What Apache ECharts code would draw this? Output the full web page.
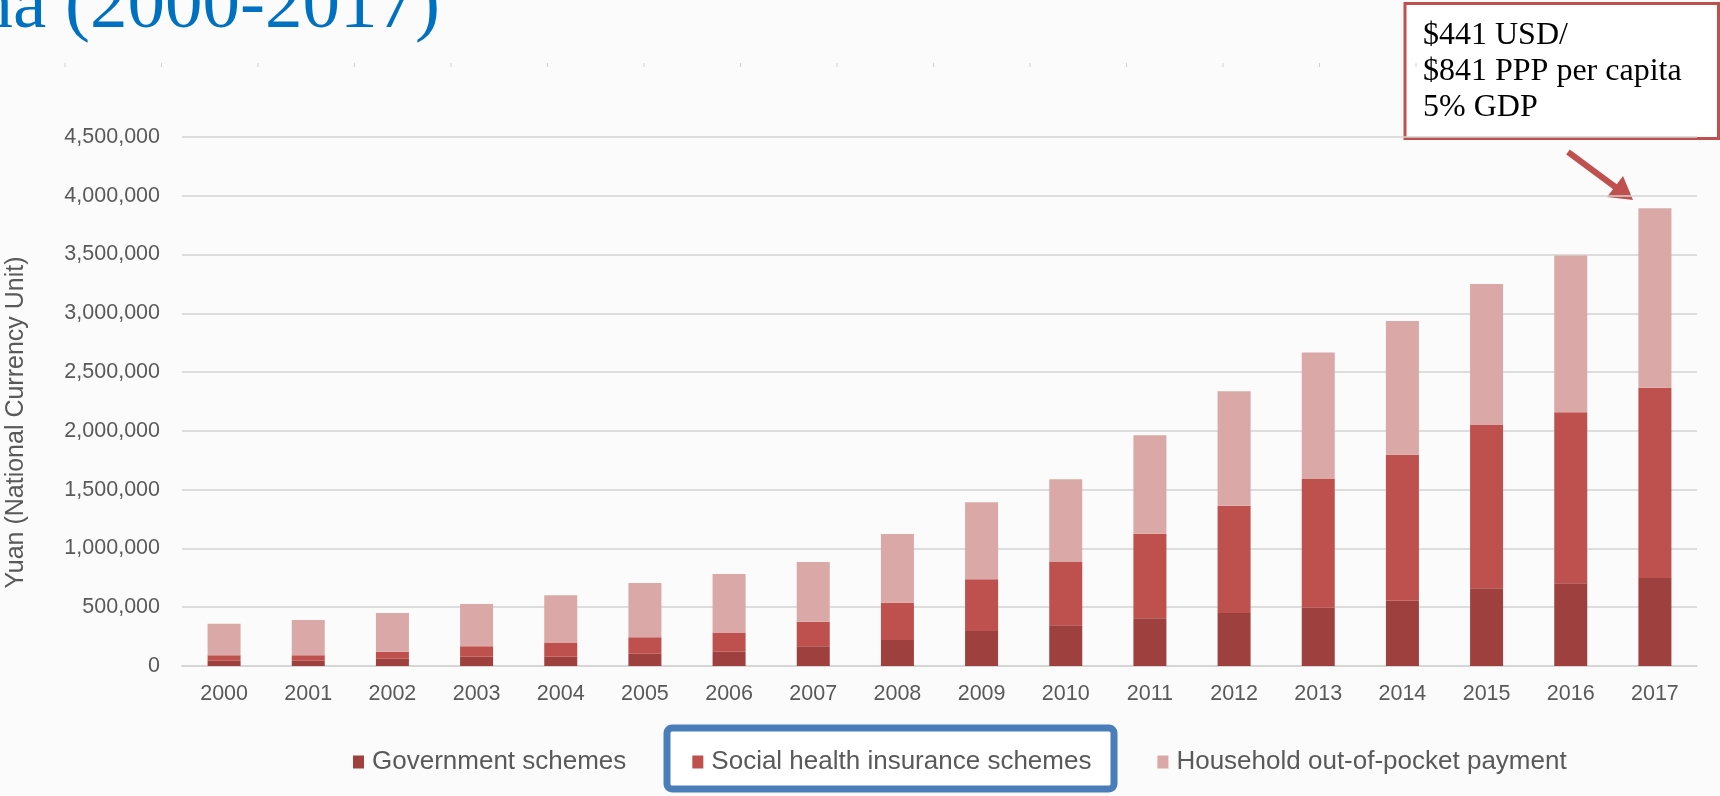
<!DOCTYPE html>
<html>
<head>
<meta charset="utf-8">
<script src="https://cdn.jsdelivr.net/npm/echarts@6/dist/echarts.min.js"></script>
<style>
html,body{margin:0;padding:0;background:#fbfbfb;}
#chart{width:1720px;height:796px;}
</style>
</head>
<body>
<div id="chart"></div>
<script>
// ---- data ----
const years = ['2000','2001','2002','2003','2004','2005','2006','2007','2008','2009','2010','2011','2012','2013','2014','2015','2016','2017'];
const governmentSchemes = [45000, 45000, 62000, 79000, 79000, 105000, 122000, 167000, 221000, 298000, 346000, 406000, 451000, 496000, 556000, 661000, 703000, 749000];
const socialHealthInsurance = [46000, 46000, 60000, 88000, 120000, 139000, 164000, 210000, 318000, 439000, 539000, 720000, 913000, 1095000, 1242000, 1389000, 1455000, 1619000];
const householdOOP = [269000, 300000, 329000, 360000, 402000, 462000, 497000, 508000, 584000, 655000, 703000, 837000, 973000, 1075000, 1137000, 1200000, 1333000, 1526000];
const seriesNames = ['Government schemes', 'Social health insurance schemes', 'Household out-of-pocket payment'];
const titleText = 'China (2000-2017)';
const yAxisName = 'Yuan (National Currency Unit)';
const annotationLines = ['$441 USD/', '$841 PPP per capita', '5% GDP'];

const colors = ['#9E403D', '#BE504D', '#D9A8A7'];
const sans = '"Liberation Sans", Arial, Helvetica, sans-serif';
const serif = '"Liberation Serif", "Times New Roman", serif';

const chart = echarts.init(document.getElementById('chart'), null, {renderer: 'canvas'});

// faint slide tick marks near the top
const topTicks = [];
for (let i = 0; i < 15; i++) {
  topTicks.push({
    type: 'line', silent: true,
    shape: {x1: 65 + i * 96.5, y1: 63, x2: 65 + i * 96.5, y2: 67},
    style: {stroke: '#d0d0d0', lineWidth: 1}
  });
}

const option = {
  backgroundColor: '#fbfbfb',
  animation: false,
  color: colors,
  grid: {left: 182, right: 23, top: 137, bottom: 130, containLabel: false},
  legend: {
    data: seriesNames,
    left: 353, top: 747,
    padding: 0,
    itemGap: 66,
    itemWidth: 11, itemHeight: 13,
    icon: 'rect',
    textStyle: {fontFamily: sans, fontSize: 26, color: '#595959', lineHeight: 30, padding: [0, 0, 0, 3]}
  },
  xAxis: {
    type: 'category',
    data: years,
    axisLine: {show: true, lineStyle: {color: '#d3d3d3', width: 1.5}},
    axisTick: {show: false},
    axisLabel: {fontFamily: sans, fontSize: 21.5, color: '#595959', margin: 17}
  },
  yAxis: {
    type: 'value',
    min: 0, max: 4500000, interval: 500000,
    axisLine: {show: false},
    axisTick: {show: false},
    splitLine: {lineStyle: {color: '#d3d3d3', width: 1.5}},
    axisLabel: {
      fontFamily: sans, fontSize: 21.5, color: '#595959', margin: 22,
      formatter: v => v.toLocaleString('en-US')
    }
  },
  series: [
    {name: seriesNames[0], type: 'bar', stack: 'total', barWidth: 33, data: governmentSchemes, itemStyle: {color: colors[0]}},
    {name: seriesNames[1], type: 'bar', stack: 'total', barWidth: 33, data: socialHealthInsurance, itemStyle: {color: colors[1]}},
    {name: seriesNames[2], type: 'bar', stack: 'total', barWidth: 33, data: householdOOP, itemStyle: {color: colors[2]}}
  ],
  graphic: [
    // title fragment (cut off at top-left of slide)
    {type: 'text', x: 440, y: 7, silent: true,
     style: {text: titleText, fontFamily: serif, fontSize: 75, fill: '#0070C0', align: 'right', verticalAlign: 'middle'}},
    // y axis name
    {type: 'text', x: 16.5, y: 422.5, rotation: Math.PI / 2, silent: true,
     style: {text: yAxisName, fontFamily: sans, fontSize: 25, fill: '#595959', align: 'center', verticalAlign: 'middle'}},
    // blue highlight box around legend item
    {type: 'rect', z: -1, silent: true,
     shape: {x: 667, y: 728, width: 447, height: 61, r: 5},
     style: {fill: '#ffffff', stroke: '#4A7EBB', lineWidth: 7}},
    // annotation box
    {type: 'rect', silent: true,
     shape: {x: 1405, y: 3.5, width: 313.5, height: 135},
     style: {fill: '#ffffff', stroke: '#C0504D', lineWidth: 3}},
    {type: 'text', x: 1423, y: 17.5, silent: true,
     style: {text: annotationLines.join('\n'), fontFamily: serif, fontSize: 32, lineHeight: 36, fill: '#000000', align: 'left', verticalAlign: 'top'}},
    // arrow
    {type: 'line', silent: true,
     shape: {x1: 1568, y1: 152, x2: 1618, y2: 189},
     style: {stroke: '#C0504D', lineWidth: 6}},
    {type: 'polygon', silent: true,
     shape: {points: [[1633, 200], [1607, 197], [1623, 176]]},
     style: {fill: '#C0504D'}}
  ].concat(topTicks)
};
chart.setOption(option);
</script>
</body>
</html>
